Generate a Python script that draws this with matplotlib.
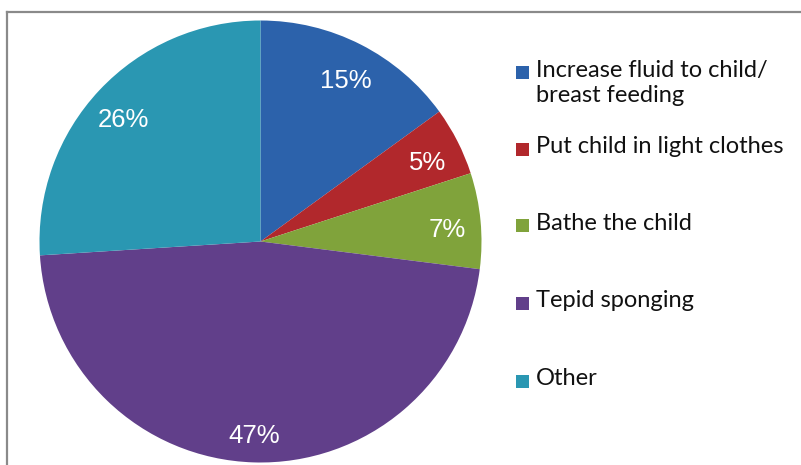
import matplotlib
matplotlib.use("Agg")
import matplotlib.pyplot as plt
from matplotlib.lines import Line2D
from matplotlib.patches import Rectangle

# Fever management practices reported by mothers (%)
categories = ["Increase fluid to child/\nbreast feeding",
              "Put child in light clothes",
              "Bathe the child",
              "Tepid sponging",
              "Other"]
shares = [15, 5, 7, 47, 26]
colors = ["#2C62AB", "#B1282C", "#80A33B", "#613F8A", "#2A97B2"]

W, H = 801, 465
fig = plt.figure(figsize=(W / 100, H / 100), dpi=100)

# pie axes: centre (260, 241) px, radius 221 px
cx, cy, r = 260.5, 241.5, 221
ax = fig.add_axes([(cx - r) / W, (H - cy - r) / H, 2 * r / W, 2 * r / H])
wedges, texts, autotexts = ax.pie(
    shares, colors=colors, startangle=90, counterclock=False,
    autopct="%d%%", pctdistance=0.85, radius=1,
    wedgeprops=dict(linewidth=0),
    textprops=dict(color="white", fontsize=18.5, family="Liberation Sans"))
# drop the percentage labels a little so the digits sit centred
for t in autotexts:
    x, y = t.get_position()
    t.set_position((x, y - 0.03))
ax.set_xlim(-1, 1)
ax.set_ylim(-1, 1)
ax.set_aspect("equal")

# outer frame (only left and top edges fall inside the image)
fig.add_artist(Line2D([7 / W, 7 / W], [0, 1 - 12 / H], transform=fig.transFigure,
                      color="#8a8a8a", lw=1.6))
fig.add_artist(Line2D([7 / W, 1], [1 - 12 / H, 1 - 12 / H], transform=fig.transFigure,
                      color="#8a8a8a", lw=1.6))

# legend drawn by hand, evenly spaced rows
row_y = [73, 149, 226, 303, 381]
for lab, col, y in zip(categories, colors, row_y):
    fig.add_artist(Rectangle((516 / W, 1 - (y + 6.5) / H), 13 / W, 13 / H,
                             transform=fig.transFigure, color=col, lw=0))
    fig.text(536 / W, 1 - (y - 13) / H, lab, ha="left", va="top",
             fontsize=17, family="Lato", color="#111111", linespacing=1.25)

fig.savefig("out.png", dpi=100)
